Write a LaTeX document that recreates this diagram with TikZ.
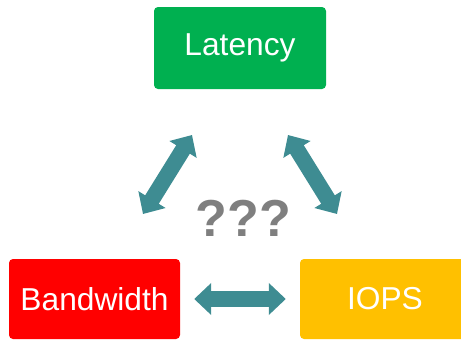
\documentclass[tikz,border=0pt]{standalone}
\usepackage{fontspec}
\setmainfont{Liberation Sans}
\usetikzlibrary{arrows.meta}
\definecolor{lat}{HTML}{00B050}
\definecolor{bw}{HTML}{FF0000}
\definecolor{iops}{HTML}{FFC000}
\definecolor{teal}{HTML}{3E8C92}
\definecolor{qgray}{HTML}{7F7F7F}
\tikzset{
  box/.style={rounded corners=4pt, text=white, inner sep=0pt, font=\fontsize{31.7}{36}\selectfont},
  link/.style={teal, line width=16pt, {Triangle[width=31pt,length=17pt]}-{Triangle[width=31pt,length=17pt]}}
}
\begin{document}
\begin{tikzpicture}[x=1pt,y=-1pt]
\clip (0,0) rectangle (461,340);
\useasboundingbox (0,0) rectangle (461,340);
\node[box, fill=lat, minimum width=172pt, minimum height=82pt] (latency) at (240,48) {Latency};
\node[box, fill=bw, minimum width=171pt, minimum height=80pt] (bandwidth) at (94.5,299) {Bandwidth};
\node[box, fill=iops, minimum width=170pt, minimum height=80pt] (iops) at (385,299) {IOPS};
\coordinate (l1) at (143,214);
\coordinate (l2) at (192,135);
\coordinate (r1) at (288,135);
\coordinate (r2) at (337,214);
\draw[link] (l1) -- (l2);
\draw[link] (r1) -- (r2);
\draw[link, shorten <=14pt, shorten >=14pt] (bandwidth.east) -- (iops.west);
\node[text=qgray, font=\fontsize{52}{60}\selectfont\bfseries] (q) at (243.5,218) {???};
\end{tikzpicture}
\end{document}
